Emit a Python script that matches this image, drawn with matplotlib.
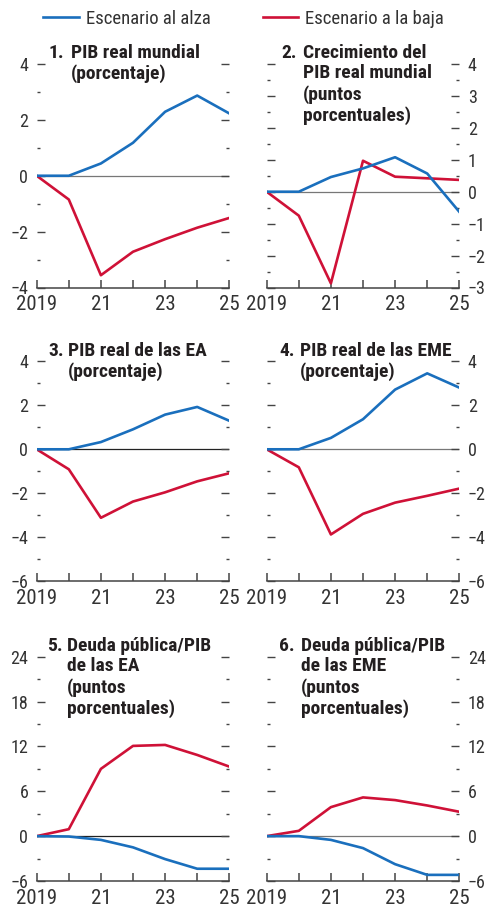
import matplotlib
matplotlib.use("Agg")
import matplotlib.pyplot as plt
from matplotlib.ticker import MultipleLocator, FuncFormatter

plt.rcParams['font.family'] = ['Roboto Condensed', 'DejaVu Sans']

years = [2019, 2020, 2021, 2022, 2023, 2024, 2025]
xlabels = {2019: "2019", 2021: "21", 2023: "23", 2025: "25"}

alza1 = [0, 0, 0.44, 1.18, 2.29, 2.87, 2.23]
baja1 = [0, -0.85, -3.56, -2.72, -2.27, -1.86, -1.51]
alza2 = [0, 0, 0.46, 0.73, 1.08, 0.57, -0.63]
baja2 = [0, -0.75, -2.87, 0.97, 0.47, 0.42, 0.37]
alza3 = [0, 0, 0.33, 0.91, 1.58, 1.93, 1.30]
baja3 = [0, -0.91, -3.12, -2.38, -1.96, -1.46, -1.09]
alza4 = [0, 0, 0.52, 1.37, 2.72, 3.46, 2.81]
baja4 = [0, -0.82, -3.88, -2.94, -2.43, -2.12, -1.79]
alza5 = [0, -0.05, -0.5, -1.5, -3.07, -4.36, -4.36]
baja5 = [0, 0.93, 9.0, 12.07, 12.2, 10.86, 9.3]
alza6 = [0, 0, -0.5, -1.6, -3.75, -5.18, -5.18]
baja6 = [0, 0.71, 3.88, 5.18, 4.82, 4.1, 3.26]

num_titles = ["1.", "2.", "3.", "4.", "5.", "6."]
titles = ["PIB real mundial\n(porcentaje)",
          "Crecimiento del\nPIB real mundial\n(puntos\nporcentuales)",
          "PIB real de las EA\n(porcentaje)",
          "PIB real de las EME\n(porcentaje)",
          "Deuda pública/PIB\nde las EA\n(puntos\nporcentuales)",
          "Deuda pública/PIB\nde las EME\n(puntos\nporcentuales)"]

blue = "#1a6fbd"
red = "#cf1137"
W, H = 487, 909

fig = plt.figure(figsize=(W / 100, H / 100), dpi=100)

# pixel boxes: left, top, right, bottom
cols = [(36.7, 229.3), (266.7, 459.3)]
rows = [(64, 287.5), (361.5, 581), (656.7, 881)]
ylims = [(-4, 4), (-3, 4), (-6, 4), (-6, 4), (-6, 24), (-6, 24)]
majors = [2, 1, 2, 2, 6, 6]
minors = [1, 0.5, 1, 1, 3, 3]
zero_col = ["#777777", "#777777", "#222222", "#777777", "#222222", "#777777"]
data = [(alza1, baja1), (alza2, baja2), (alza3, baja3),
        (alza4, baja4), (alza5, baja5), (alza6, baja6)]
# title positions (px): number x, body x, top y
tpos = [(49, 71, 44), (281, 303, 44), (48, 68, 342),
        (279, 300, 342), (47, 67, 637), (279, 301, 637)]

minus = FuncFormatter(lambda v, p: ("%g" % v).replace("-", "\u2212"))

axes = []
for i in range(6):
    l, r = cols[i % 2]
    t, b = rows[i // 2]
    ax = fig.add_axes([l / W, 1 - b / H, (r - l) / W, (b - t) / H])
    a, bj = data[i]
    ax.axhline(0, color=zero_col[i], lw=0.9, zorder=1)
    lb, = ax.plot(years, bj, color=red, lw=1.9, zorder=2, label="Escenario a la baja")
    la, = ax.plot(years, a, color=blue, lw=1.9, zorder=3, label="Escenario al alza")
    ax.set_xlim(2019, 2025)
    ax.set_ylim(*ylims[i])
    for s in ["top", "left", "right"]:
        ax.spines[s].set_visible(False)
    ax.spines["bottom"].set_color("#444444")
    ax.spines["bottom"].set_linewidth(1.1)
    ax.set_xticks(years)
    ax.set_xticklabels([xlabels.get(y, "") for y in years])
    ax.tick_params(axis="x", direction="in", length=6, width=1.1, color="#444444",
                   labelsize=15, labelcolor="#333333", pad=5.5)
    ax.yaxis.set_major_locator(MultipleLocator(majors[i]))
    ax.yaxis.set_minor_locator(MultipleLocator(minors[i]))
    ax.yaxis.set_major_formatter(minus)
    right = i % 2 == 1
    ax.tick_params(axis="y", which="major", direction="in", length=6, width=1.0,
                   color="#444444", left=True, right=True,
                   labelleft=not right, labelright=right,
                   labelsize=13, labelcolor="#333333", pad=6)
    ax.tick_params(axis="y", which="minor", direction="in", length=2.5, width=1.0,
                   color="#444444", left=True, right=True)
    nx, bx, ty = tpos[i]
    fig.text(nx / W, 1 - ty / H, num_titles[i], ha="left", va="top",
             fontsize=14, fontweight="bold", color="#231f20")
    fig.text(bx / W, 1 - ty / H, titles[i], ha="left", va="top",
             fontsize=14, fontweight="bold", color="#231f20", linespacing=1.17)
    axes.append(ax)

fig.legend([la, lb], ["Escenario al alza", "Escenario a la baja"],
           loc="center", bbox_to_anchor=(0.5, 1 - 19 / H), ncol=2, frameon=False,
           fontsize=13.5, handlelength=1.9, handletextpad=0.35, columnspacing=2.8,
           labelcolor="#333333")

fig.savefig("out.png", dpi=100)
